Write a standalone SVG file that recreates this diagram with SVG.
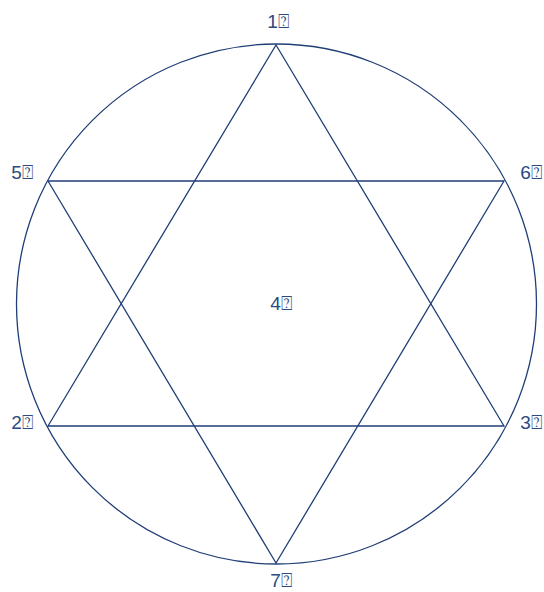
<svg xmlns="http://www.w3.org/2000/svg" width="544" height="592" viewBox="0 0 544 592">
<style>
.ln{fill:none;stroke:#203f77;stroke-width:1.3}
.lb{font-family:"Liberation Sans","DejaVu Sans",sans-serif;font-size:19px;fill:#2b4a80;text-anchor:middle}
</style>
<rect width="544" height="592" fill="#ffffff"/>
<g id="connectors">
<circle class="ln" cx="276.5" cy="304" r="260"/>
<polygon class="ln" points="276,45 504,426 48,426"/>
<polygon class="ln" points="276,563 48,181 504,181"/>
</g>
<g id="n1"><text class="lb" x="278" y="28">1⍰</text></g>
<g id="n5"><text class="lb" x="22" y="179">5⍰</text></g>
<g id="n6"><text class="lb" x="531" y="179">6⍰</text></g>
<g id="n4"><text class="lb" x="281" y="310">4⍰</text></g>
<g id="n2"><text class="lb" x="22" y="429">2⍰</text></g>
<g id="n3"><text class="lb" x="531" y="429">3⍰</text></g>
<g id="n7"><text class="lb" x="281" y="587">7⍰</text></g>
</svg>
